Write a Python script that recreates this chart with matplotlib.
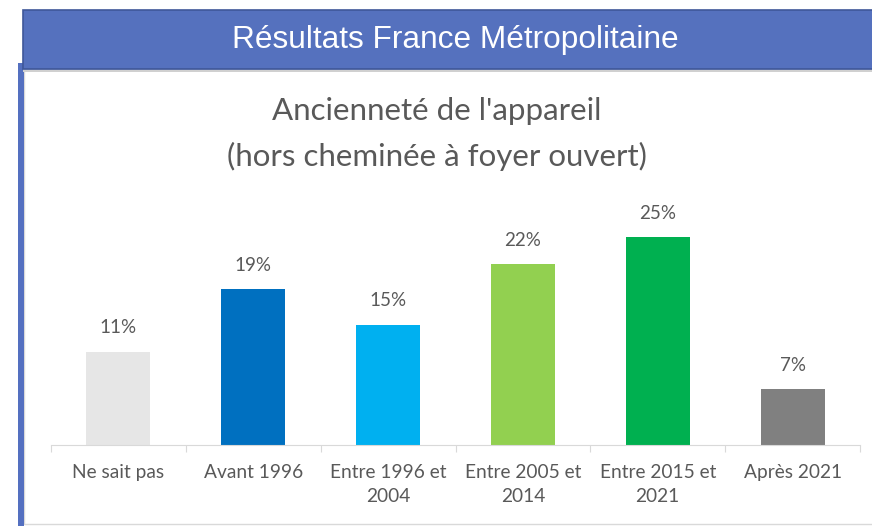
import matplotlib.pyplot as plt
from matplotlib.patches import Rectangle

categories = ["Ne sait pas", "Avant 1996", "Entre 1996 et\n2004", "Entre 2005 et\n2014",
              "Entre 2015 et\n2021", "Après 2021"]
values = [11.4, 19.0, 14.7, 22.1, 25.4, 6.8]
colors = ["#E6E6E6", "#0070C0", "#00B0F0", "#92D050", "#00B050", "#808080"]

W, H = 872, 526
fig = plt.figure(figsize=(W / 100, H / 100), dpi=100)


def fx(x):
    return x / W


def fy(y):
    return 1 - y / H


def add_rect(x0, y0, x1, y1, **kw):
    # coordonnées en pixels (origine en haut à gauche)
    r = Rectangle((fx(x0), fy(y1)), fx(x1 - x0), fy(y0) - fy(y1),
                  transform=fig.transFigure, zorder=-5, **kw)
    fig.patches.append(r)


# cadre blanc + barre bleue à gauche
add_rect(24, 70, 890, 524, facecolor="white", edgecolor="#D9D9D9", lw=1)
add_rect(18, 63, 24, 530, facecolor="#5470C0", lw=0)
# bandeau titre
add_rect(23, 69, 890, 72, facecolor="#D0D0D0", lw=0)
add_rect(23, 10, 890, 69, facecolor="#5571BE", edgecolor="#3F5799", lw=1.2)
fig.text(fx(455), fy(40), "Résultats France Métropolitaine", color="white",
         fontsize=22.8, family="Liberation Sans", ha="center", va="center")

fig.text(fx(437), fy(111), "Ancienneté de l'appareil", color="#595959",
         fontsize=22.5, family="Lato", ha="center", va="center")
fig.text(fx(437), fy(156), "(hors cheminée à foyer ouvert)", color="#595959",
         fontsize=22.5, family="Lato", ha="center", va="center")

# axes : gauche 51, droite 860, base 445, haut 195
ax = fig.add_axes([fx(51), fy(445), fx(860 - 51), fy(195) - fy(445)])
ax.patch.set_alpha(0)
x = range(len(categories))
bars = ax.bar(x, values, width=0.475, color=colors)
ax.set_xlim(-0.5, len(categories) - 0.5)
ax.set_ylim(0, 30.5)
for b, v in zip(bars, values):
    ax.text(b.get_x() + b.get_width() / 2, v + 1.85, f"{v:.0f}%", ha="center", va="bottom",
            fontsize=13.5, color="#595959", family="Lato")

for s in ["left", "right", "top"]:
    ax.spines[s].set_visible(False)
ax.spines["bottom"].set_color("#D9D9D9")
ax.set_yticks([])
ax.set_xticks([i - 0.5 for i in range(len(categories) + 1)], minor=False)
ax.set_xticklabels([])
ax.tick_params(axis="x", which="major", length=5, color="#D9D9D9")
ax.set_xticks(list(x), minor=True)
ax.set_xticklabels(categories, minor=True, fontsize=13.8, color="#595959", family="Lato",
                   linespacing=1.5)
ax.tick_params(axis="x", which="minor", length=0, pad=14)

fig.savefig("out.png", dpi=100)
